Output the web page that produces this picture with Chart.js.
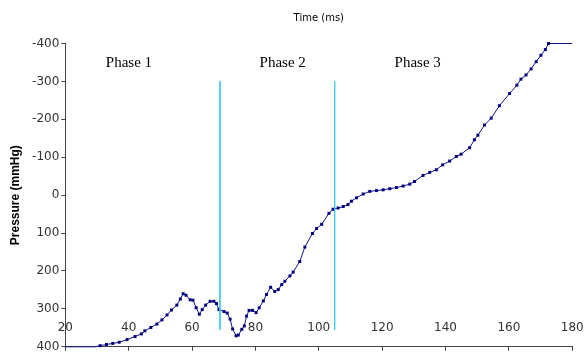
<!DOCTYPE html>
<html>
<head>
<meta charset="utf-8">
<script src="https://cdn.jsdelivr.net/npm/chart.js@4/dist/chart.umd.min.js"></script>
<style>
  html, body { margin: 0; padding: 0; background: #fff; }
  #wrap { width: 588px; height: 356px; }
</style>
</head>
<body>
<div id="wrap"><canvas id="pressureChart" width="588" height="356"></canvas></div>
<script>
// data
const timeMs = [20, 29.5, 31, 33, 35, 37, 39.5, 42, 44, 45.1, 47, 48.9, 50.5, 52.1, 53.5, 55.2, 56.3, 57.2, 58.1, 59.4,
    60.3, 61.3, 62.3, 63.2, 64.3, 65.7, 66.9, 67.7, 68.5, 70.1, 71.1, 72.0, 72.8, 73.9, 74.6, 75.7, 76.5, 77.2, 78.0, 79.1,
    80.2, 81.2, 82.5, 83.5, 84.8, 86.1, 87.2, 88.3, 89.3, 90.9, 91.9, 94.0, 95.6, 98.0, 99.3, 100.9, 103.2, 104.5, 106.1, 107.7,
    109.2, 110.3, 111.9, 114.0, 116.1, 118.2, 120.3, 122.4, 124.5, 126.6, 128.7, 130.2, 132.9, 135.0, 137.1, 139.1, 141.3, 143.4, 144.9, 147.6,
    149.1, 150.2, 152.3, 154.4, 157.0, 160.2, 162.5, 163.8, 165.4, 167.0, 168.6, 170.1, 171.5, 172.5, 180];
const pressure = [400, 400, 397, 394, 391, 388, 381, 373, 366, 358, 349, 340, 329, 316, 303, 290, 274, 260, 264, 276,
    277, 297, 314, 302, 290, 280, 280, 286, 302, 307, 311, 327, 353, 371, 369, 354, 345, 319, 304, 304,
    310, 297, 279, 262, 243, 254, 249, 236, 227, 213, 203, 175, 137, 101, 88, 77, 48, 37, 34, 30,
    25, 16, 7, -3, -10, -12, -14, -17, -20, -24, -29, -36, -52, -60, -67, -80, -90, -102, -108, -125,
    -146, -158, -185, -203, -236, -268, -290, -306, -317, -333, -352, -369, -384, -400, -400];
const phaseBounds = [68.8, 105.0];
const boundaryRange = [-300, 355];
const phaseNames = ['Phase 1', 'Phase 2', 'Phase 3'];
const xTicks = [20, 180, 20];      // min, max, step
const yTicks = [-400, 400, 100];

// where the phase names sit (axis units)
const phasePos = [[40.1, -348], [88.6, -348], [131.2, -348]];

const phaseLabels = {
    id: 'phaseLabels',
    afterDatasetsDraw(chart) {
        const { ctx, scales: { x, y } } = chart;
        ctx.save();
        ctx.font = '15px "Liberation Serif", "Times New Roman", serif';
        ctx.fillStyle = '#000';
        ctx.textAlign = 'center';
        ctx.textBaseline = 'middle';
        phaseNames.forEach((name, i) => {
            ctx.fillText(name, x.getPixelForValue(phasePos[i][0]), y.getPixelForValue(phasePos[i][1]));
        });
        ctx.restore();
    }
};

const boundarySets = phaseBounds.map(t => ({
    data: boundaryRange.map(v => ({ x: t, y: v })),
    borderColor: '#3cc8f0',
    borderWidth: 1,
    pointRadius: 0,
    clip: false
}));

const ctx = document.getElementById('pressureChart').getContext('2d');
new Chart(ctx, {
    type: 'line',
    data: {
        datasets: [
            ...boundarySets,
            {
                data: timeMs.map((t, i) => ({ x: t, y: pressure[i] })),
                borderColor: '#14148a',
                borderWidth: 1,
                pointStyle: 'rect',
                pointRadius: c => (c.raw && Math.abs(c.raw.y) === 400 && c.raw.x !== 172.5 ? 0 : 2.1),
                pointBackgroundColor: '#000080',
                pointBorderWidth: 0,
                tension: 0,
                clip: false
            }
        ]
    },
    options: {
        responsive: false,
        animation: false,
        devicePixelRatio: 1,
        layout: { padding: { left: 0, right: 15.7, top: 0, bottom: 0 } },
        plugins: {
            legend: { display: false },
            tooltip: { enabled: false },
            title: {
                display: true,
                text: 'Time (ms)',
                fullSize: false,
                color: '#000',
                font: { family: '"DejaVu Sans", sans-serif', size: 10, weight: 'normal' },
                padding: { top: 12, bottom: 19.5 }
            }
        },
        scales: {
            x: {
                type: 'linear',
                position: 'bottom',
                min: xTicks[0],
                max: xTicks[1],
                afterFit: s => {
                    s.height = 6.7;
                    // let the 180 label run past the plot edge like the original
                    s.paddingLeft = 0;
                    s.paddingRight = 0;
                },
                ticks: {
                    stepSize: xTicks[2],
                    mirror: true,   // labels sit above the axis line, inside the plot
                    padding: 12,
                    color: '#333',
                    font: { family: '"DejaVu Sans", sans-serif', size: 12 }
                },
                grid: { drawOnChartArea: false, tickLength: 4, color: '#444' },
                border: { color: '#444', width: 1 }
            },
            y: {
                type: 'linear',
                reverse: true,
                min: yTicks[0],
                max: yTicks[1],
                afterFit: s => { s.width = 65.3; },
                ticks: {
                    stepSize: yTicks[2],
                    padding: 2,
                    color: '#333',
                    font: { family: '"DejaVu Sans", sans-serif', size: 12 }
                },
                grid: { drawOnChartArea: false, tickLength: 4, color: '#444' },
                border: { color: '#444', width: 1 },
                title: {
                    display: true,
                    text: 'Pressure (mmHg)',
                    color: '#000',
                    font: { family: '"Liberation Sans", Arial, sans-serif', size: 12, weight: 'bold' },
                    padding: { top: 8.8, bottom: 0 }
                }
            }
        }
    },
    plugins: [phaseLabels]
});
</script>
</body>
</html>
